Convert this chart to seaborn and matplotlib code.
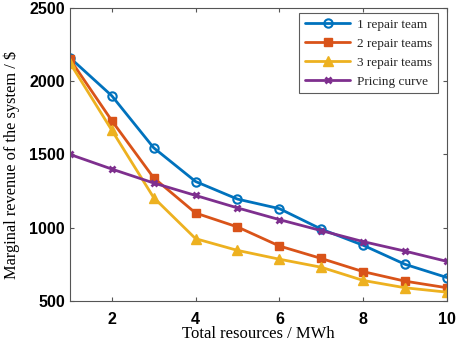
import numpy as np
import matplotlib
matplotlib.use('Agg')
import matplotlib.pyplot as plt
import pandas as pd
import seaborn as sns

resources = [1, 2, 3, 4, 5, 6, 7, 8, 9, 10]
one_team = [2160, 1900, 1545, 1315, 1195, 1130, 990, 880, 750, 660]
two_teams = [2150, 1730, 1340, 1100, 1005, 875, 790, 700, 635, 590]
three_teams = [2125, 1665, 1205, 925, 845, 785, 730, 640, 590, 560]
pricing = [1500, 1400, 1305, 1220, 1135, 1055, 980, 905, 840, 770]

series_names = ['1 repair team', '2 repair teams', '3 repair teams', 'Pricing curve']
series_values = [one_team, two_teams, three_teams, pricing]

sns.set_style('ticks')

fig = plt.figure(figsize=(4.57, 3.42), dpi=100)
ax = fig.add_axes([0.153, 0.12, 0.825, 0.857])

styles = [
    dict(color='#0072BD', marker='o', markersize=6, markerfacecolor='none', markeredgewidth=1.5),
    dict(color='#D95319', marker='s', markersize=6, markerfacecolor='#D95319', markeredgewidth=1),
    dict(color='#EDB120', marker='^', markersize=7, markerfacecolor='#EDB120', markeredgewidth=1),
    dict(color='#7E2F8E', marker='x', markersize=4, markeredgewidth=2),
]

for name, vals, st in zip(series_names, series_values, styles):
    df = pd.DataFrame({'x': resources, 'y': vals})
    sns.lineplot(data=df, x='x', y='y', ax=ax, label=name, linewidth=2,
                 markeredgecolor=st['color'], **st)

ax.set_xlim(1, 10)
ax.set_ylim(500, 2500)
ax.set_xticks([2, 4, 6, 8, 10])
ax.set_yticks([500, 1000, 1500, 2000, 2500])
ax.tick_params(direction='in', top=True, right=True, length=3, width=0.8,
               color='#555555', labelcolor='black')
ax.tick_params(axis='x', pad=8)
for lab in ax.get_xticklabels() + ax.get_yticklabels():
    lab.set_family('Liberation Sans')
    lab.set_fontweight('bold')
    lab.set_fontsize(11.5)
for sp in ax.spines.values():
    sp.set_color('#555555')
    sp.set_linewidth(0.8)

ax.set_xlabel('Total resources / MWh', family='Liberation Serif', fontsize=12, color='black')
ax.set_ylabel('Marginal revenue of the system / $', family='Liberation Serif', fontsize=11.8, color='black')
ax.xaxis.set_label_coords(0.5, -0.084)
ax.yaxis.set_label_coords(-0.132, 0.464)

leg = ax.legend(loc='upper right', bbox_to_anchor=(0.976, 0.983), borderaxespad=0,
                frameon=True, fancybox=False,
                prop={'family': 'Liberation Serif', 'size': 9.5}, handlelength=3.4,
                borderpad=0.45, labelspacing=0.5, handletextpad=0.5)
leg.get_frame().set_edgecolor('#333333')
leg.get_frame().set_linewidth(0.8)

fig.savefig('out.png', dpi=100)
